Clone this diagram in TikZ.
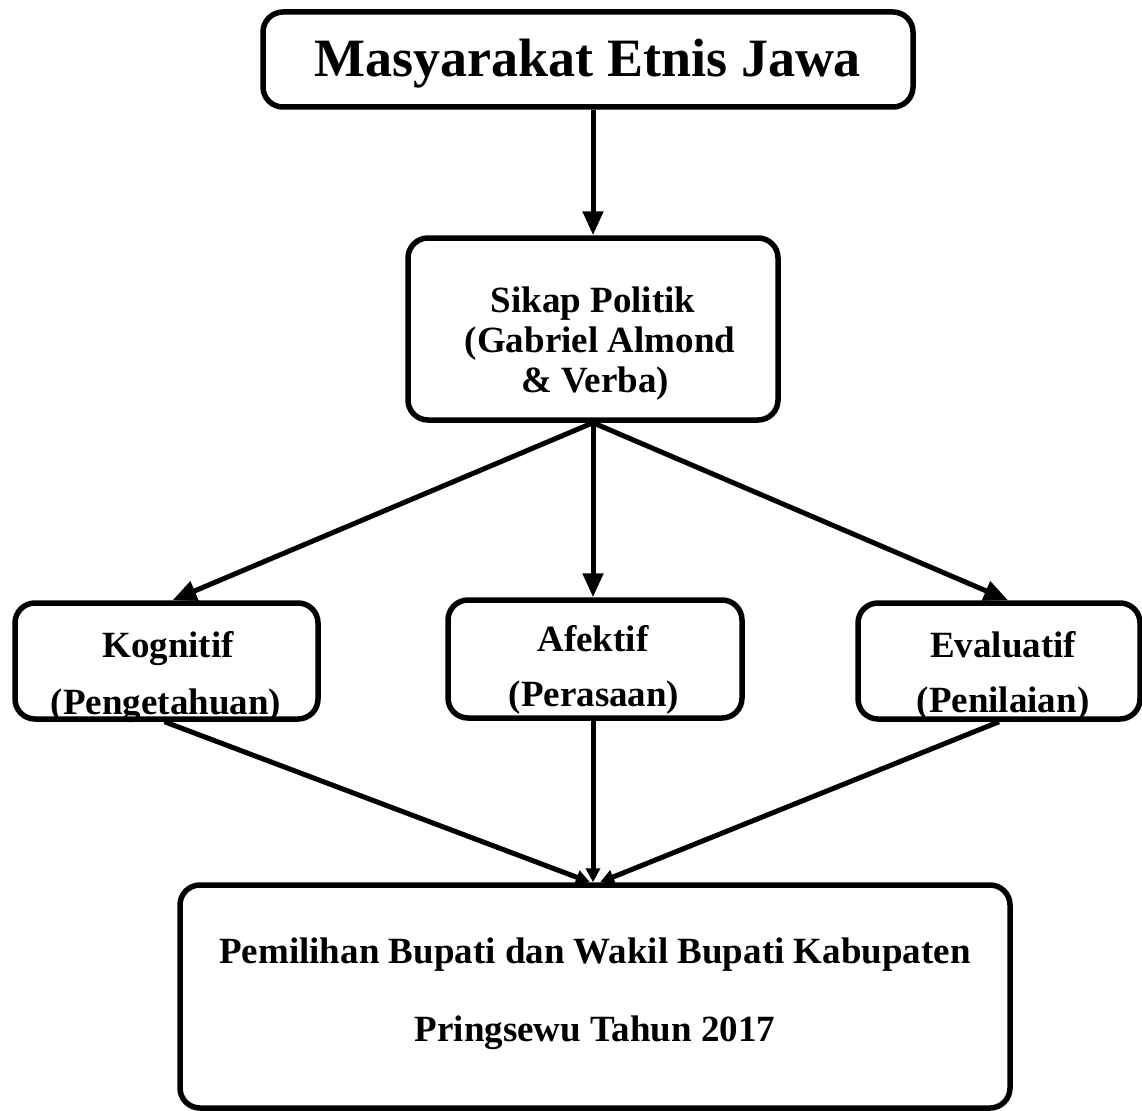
\documentclass[tikz,border=0pt]{standalone}
\usepackage{fontspec}
\setmainfont{Liberation Serif}
\usetikzlibrary{arrows.meta}
\begin{document}
\begin{tikzpicture}[x=1pt,y=-1pt,
  box/.style={draw=black,line width=5.5pt,rounded corners=20pt,inner sep=0pt},
  txt/.style={font=\fontsize{37}{40}\selectfont\bfseries,anchor=base,inner sep=0pt},
  arr/.style={line width=5pt,-{Triangle[length=24pt,width=20pt]}},
  arrs/.style={line width=5pt,-{Triangle[length=14pt,width=14pt]}}]
\useasboundingbox (0,0) rectangle (1142,1110);
% texts
\node[txt,font=\fontsize{54}{60}\selectfont\bfseries] (t1) at (588,77) {Masyarakat Etnis Jawa};
\node[txt] (s1) at (593,312) {Sikap Politik};
\node[txt] (s2) at (600,352) {(Gabriel Almond};
\node[txt] (s3) at (595,392) {\& Verba)};
\node[txt] (k1) at (168,657) {Kognitif};
\node[txt] (k2) at (166,714) {(Pengetahuan)};
\node[txt] (a1) at (593,651) {Afektif};
\node[txt] (a2) at (594,706) {(Perasaan)};
\node[txt] (e1) at (1003,657) {Evaluatif};
\node[txt] (e2) at (1003,712) {(Penilaian)};
\node[txt] (b1) at (595,963) {Pemilihan Bupati dan Wakil Bupati Kabupaten};
\node[txt] (b2) at (595,1041) {Pringsewu Tahun 2017};
% boxes
\node[box,minimum width=650pt,minimum height=95pt] (top) at (588,59.5) {};
\node[box,minimum width=370pt,minimum height=182pt] (sik) at (593,329) {};
\node[box,minimum width=303pt,minimum height=116pt] (kog) at (166.5,661) {};
\node[box,minimum width=294pt,minimum height=118pt] (afe) at (595,659) {};
\node[box,minimum width=282pt,minimum height=116pt] (eva) at (999,661) {};
\node[box,minimum width=830pt,minimum height=223pt] (bot) at (595,996.5) {};
% connectors
\draw[arr] (sik.north |- top.south) -- (sik.north);
\draw[arr] (sik.south) -- ([xshift=6pt]kog.north);
\draw[arr] (sik.south) -- (sik.south |- afe.north);
\draw[arr] (sik.south) -- ([xshift=9pt]eva.north);
\draw[arrs] ([xshift=-2pt]kog.south) -- ([xshift=-5pt]bot.north);
\draw[arrs] (afe.south -| sik.south) -- (sik.south |- bot.north);
\draw[arrs] (eva.south) -- ([xshift=5pt]bot.north);
\end{tikzpicture}
\end{document}
